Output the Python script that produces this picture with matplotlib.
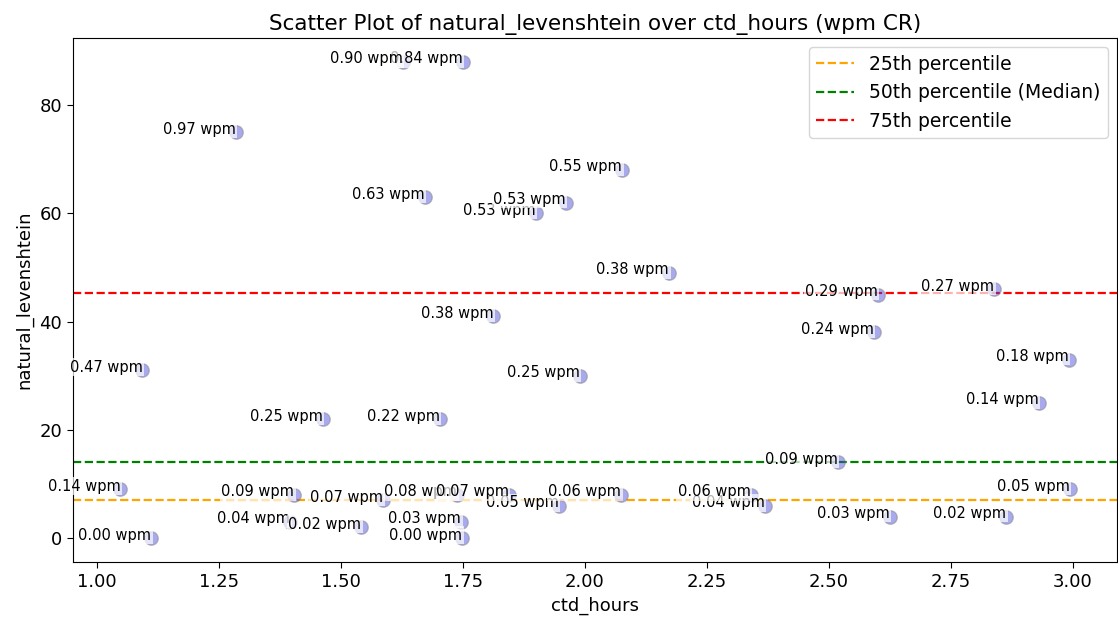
import matplotlib
matplotlib.use("Agg")
import matplotlib.pyplot as plt
import numpy as np

# data (ordered so that overlapping labels stack the same way)
ctd_hours = [1.285, 1.750, 1.627, 1.672, 1.900, 1.961, 2.077, 2.173, 1.813,
             2.601, 2.839, 2.593, 2.992, 2.931, 1.990, 1.094, 1.464, 1.703,
             2.519, 1.049, 1.405, 1.587, 1.739, 1.947, 1.845, 2.075, 2.369,
             2.340, 2.994, 1.397, 1.542, 1.749, 1.747, 1.112, 2.625, 2.864]
natural_levenshtein = [75, 88, 88, 63, 60, 62, 68, 49, 41,
                       45, 46, 38, 33, 25, 30, 31, 22, 22,
                       14, 9, 8, 7, 8, 6, 8, 8, 6,
                       8, 9, 3, 2, 0, 3, 0, 4, 4]
wpm = [0.97, 0.84, 0.90, 0.63, 0.53, 0.53, 0.55, 0.38, 0.38,
       0.29, 0.27, 0.24, 0.18, 0.14, 0.25, 0.47, 0.25, 0.22,
       0.09, 0.14, 0.09, 0.07, 0.08, 0.05, 0.07, 0.06, 0.04,
       0.06, 0.05, 0.04, 0.02, 0.00, 0.03, 0.00, 0.03, 0.02]

percentile_values = [7.0, 14.0, 45.25]
percentile_labels = ["25th percentile", "50th percentile (Median)", "75th percentile"]
percentile_colors = ["orange", "green", "red"]

fig = plt.figure(figsize=(11.18, 6.22), dpi=100)
ax = fig.add_axes([0.0653, 0.0965, 0.934, 0.8425])

ax.scatter(ctd_hours, natural_levenshtein, color=(0.25, 0.25, 0.85), alpha=0.45,
           edgecolors="gray", linewidths=1.0, s=95, zorder=2)

for v, lab, c in zip(percentile_values, percentile_labels, percentile_colors):
    ax.axhline(v, color=c, linestyle="--", linewidth=1.6, label=lab, zorder=1.5)

for x, y, w in zip(ctd_hours, natural_levenshtein, wpm):
    ax.annotate(f"{w:.2f} wpm", (x, y), xytext=(0, 2.2), textcoords="offset points",
                fontsize=10.5, ha="right", va="center", annotation_clip=False,
                bbox=dict(facecolor="white", alpha=0.7, edgecolor="none", pad=1))

ax.set_title("Scatter Plot of natural_levenshtein over ctd_hours (wpm CR)", fontsize=15.5)
ax.set_xlabel("ctd_hours", fontsize=13)
ax.set_ylabel("natural_levenshtein", fontsize=13)
ax.tick_params(labelsize=13, length=4.5)
ax.legend(loc="upper right", fontsize=13.5)

fig.savefig("out.png", dpi=100)
